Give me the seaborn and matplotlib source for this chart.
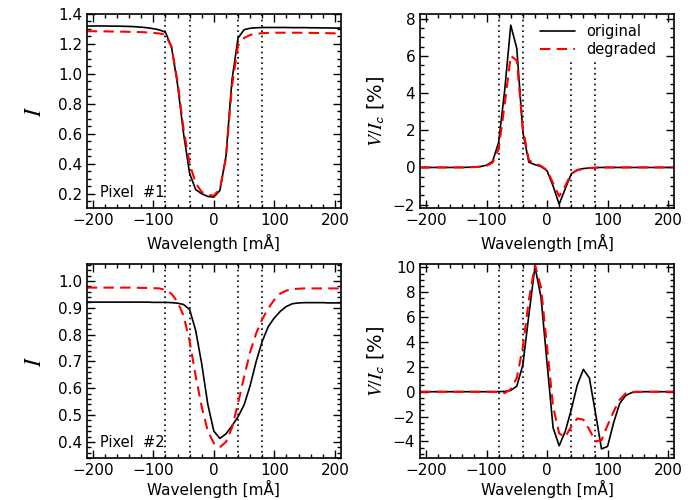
import numpy as np
import matplotlib
matplotlib.use('Agg')
from matplotlib import pyplot as plt
from matplotlib.ticker import MultipleLocator
import seaborn as sns

# wavelength grid [mA]
wav = np.arange(-210, 211, 10)

# pixel 1, Stokes I
i1_orig = [1.320, 1.320, 1.320, 1.320, 1.319, 1.319, 1.318, 1.317, 1.315,
           1.312, 1.308, 1.302, 1.294, 1.278, 1.180, 0.930, 0.600, 0.335,
           0.228, 0.200, 0.182, 0.178, 0.222, 0.450, 0.960, 1.240, 1.295,
           1.305, 1.308, 1.310, 1.310, 1.310, 1.310, 1.310, 1.309, 1.309,
           1.309, 1.308, 1.308, 1.307, 1.307, 1.306, 1.306]
i1_deg = [1.285, 1.285, 1.284, 1.284, 1.283, 1.283, 1.282, 1.281, 1.280,
          1.279, 1.277, 1.274, 1.270, 1.262, 1.180, 0.950, 0.630, 0.400,
          0.270, 0.212, 0.192, 0.188, 0.232, 0.440, 0.920, 1.190, 1.240,
          1.260, 1.268, 1.272, 1.274, 1.275, 1.275, 1.275, 1.275, 1.275,
          1.274, 1.274, 1.273, 1.273, 1.272, 1.271, 1.270]

# pixel 1, Stokes V [%]
v1_orig = [0, 0, 0, 0, 0, 0, 0, 0, 0.01,
           0.02, 0.05, 0.12, 0.33, 1.35, 4.15, 7.65, 6.40, 1.90,
           0.28, 0.15, 0.05, -0.18, -1.00, -1.98, -1.15, -0.35, -0.13,
           -0.06, -0.03, -0.01, 0, 0, 0, 0, 0, 0,
           0, 0, 0, 0, 0, 0, 0]
v1_deg = [0, 0, 0, 0, 0, 0, 0, 0, 0.01,
          0.02, 0.04, 0.09, 0.26, 1.00, 3.40, 6.00, 5.75, 2.10,
          0.38, 0.22, 0.08, -0.15, -0.85, -1.55, -1.00, -0.33, -0.15,
          -0.07, -0.03, -0.01, 0, 0, 0, 0, 0, 0,
          0, 0, 0, 0, 0, 0, 0]

# pixel 2, Stokes I
i2_orig = [0.921, 0.921, 0.921, 0.921, 0.921, 0.921, 0.921, 0.921, 0.921,
           0.921, 0.921, 0.920, 0.920, 0.920, 0.919, 0.917, 0.912, 0.893,
           0.815, 0.690, 0.540, 0.440, 0.413, 0.430, 0.460, 0.494, 0.538,
           0.610, 0.700, 0.775, 0.830, 0.862, 0.887, 0.905, 0.915, 0.918,
           0.919, 0.919, 0.919, 0.919, 0.918, 0.918, 0.918]
i2_deg = [0.975, 0.975, 0.975, 0.975, 0.975, 0.975, 0.975, 0.975, 0.975,
          0.974, 0.974, 0.973, 0.972, 0.966, 0.952, 0.922, 0.870, 0.775,
          0.645, 0.530, 0.440, 0.395, 0.380, 0.400, 0.453, 0.545, 0.642,
          0.735, 0.805, 0.857, 0.898, 0.930, 0.953, 0.964, 0.969, 0.971,
          0.972, 0.972, 0.972, 0.972, 0.972, 0.972, 0.972]

# pixel 2, Stokes V [%]
v2_orig = [0, 0, 0, 0, 0, 0, 0, 0, 0,
           0, 0, 0, 0, 0.01, 0.02, 0.10, 0.45, 2.15,
           6.20, 10.05, 7.60, 2.30, -2.90, -4.35, -3.20, -1.45, 0.55,
           1.80, 1.10, -1.70, -4.60, -4.40, -2.50, -0.95, -0.30, -0.07,
           -0.02, 0, 0, 0, 0, 0, 0]
v2_deg = [0, 0, 0, 0, 0, 0, 0, 0, 0,
          0, 0, 0, 0, -0.04, -0.12, 0.20, 1.10, 3.60,
          7.40, 10.20, 8.40, 3.60, -1.20, -3.35, -3.65, -2.80, -2.15,
          -2.25, -3.05, -4.00, -3.90, -2.70, -1.60, -0.65, -0.13, -0.02,
          0, 0, 0, 0, 0, 0, 0]

marks = [-80, -40, 40, 80]

sns.set_style('ticks')
plt.rcParams['font.family'] = ['DejaVu Sans']
plt.rcParams['mathtext.fontset'] = 'stix'
for key in ['text.color', 'axes.labelcolor', 'xtick.color', 'ytick.color',
            'axes.edgecolor']:
    plt.rcParams[key] = 'black'

fig = plt.figure(figsize=(7, 5), dpi=100)
ax1 = fig.add_axes([0.124, 0.584, 0.363, 0.388])
ax2 = fig.add_axes([0.600, 0.584, 0.363, 0.388])
ax3 = fig.add_axes([0.124, 0.084, 0.363, 0.388])
ax4 = fig.add_axes([0.600, 0.084, 0.363, 0.388])

panels = [
    (ax1, i1_orig, i1_deg, (0.105, 1.40), 0.2, 0.05, r'$I$', 'Pixel  #1'),
    (ax2, v1_orig, v1_deg, (-2.18, 8.25), 2, 0.5, r'$V/I_\mathsf{c}$ [%]', None),
    (ax3, i2_orig, i2_deg, (0.34, 1.063), 0.1, 0.02, r'$I$', 'Pixel  #2'),
    (ax4, v2_orig, v2_deg, (-5.33, 10.27), 2, 0.5, r'$V/I_\mathsf{c}$ [%]', None),
]

for ax, orig, deg, ylim, major, minor, ylab, tag in panels:
    for m in marks:
        ax.axvline(m, color='k', ls=(0, (1, 2.2)), lw=1.2)
    sns.lineplot(x=wav, y=orig, ax=ax, color='k', lw=1.2, label='original')
    sns.lineplot(x=wav, y=deg, ax=ax, color='red', lw=1.5, ls=(0, (5, 3)),
                 label='degraded')
    ax.set_xlim(-210, 210)
    ax.set_ylim(*ylim)
    ax.xaxis.set_major_locator(MultipleLocator(100))
    ax.xaxis.set_minor_locator(MultipleLocator(20))
    ax.yaxis.set_major_locator(MultipleLocator(major))
    ax.yaxis.set_minor_locator(MultipleLocator(minor))
    ax.tick_params(which='both', direction='in', top=True, right=True,
                   labelsize=11, width=1)
    ax.tick_params(which='major', length=6)
    ax.tick_params(which='minor', length=3)
    for s in ax.spines.values():
        s.set_linewidth(1.2)
    ax.set_xlabel('Wavelength [mÅ]', fontsize=11)
    ax.xaxis.set_label_coords(0.5, -0.135)
    if tag is None:
        ax.set_ylabel(ylab, fontsize=14)
        ax.yaxis.set_label_coords(-0.13, 0.5)
    else:
        ax.set_ylabel(ylab, fontsize=17)
        ax.yaxis.set_label_coords(-0.16, 0.5)
        ax.text(0.05, 0.08, tag, transform=ax.transAxes, fontsize=10.5,
                va='center')
    if ax.get_legend() is not None:
        ax.get_legend().remove()

# keep the bottom row labels inside the canvas
ax3.xaxis.set_label_coords(0.5, -0.115)
ax4.xaxis.set_label_coords(0.5, -0.115)

ax1.set_yticks([0.2, 0.4, 0.6, 0.8, 1.0, 1.2, 1.4])
ax3.set_yticks([0.4, 0.5, 0.6, 0.7, 0.8, 0.9, 1.0])

leg = ax2.legend(loc='upper right', bbox_to_anchor=(0.965, 0.995),
                 frameon=True, fontsize=10.5, handlelength=2.4,
                 labelspacing=0.2, borderaxespad=0.3, borderpad=0.3,
                 fancybox=False, framealpha=1)
leg.get_frame().set_facecolor('white')
leg.get_frame().set_edgecolor('none')

fig.savefig('out.png', dpi=100)
